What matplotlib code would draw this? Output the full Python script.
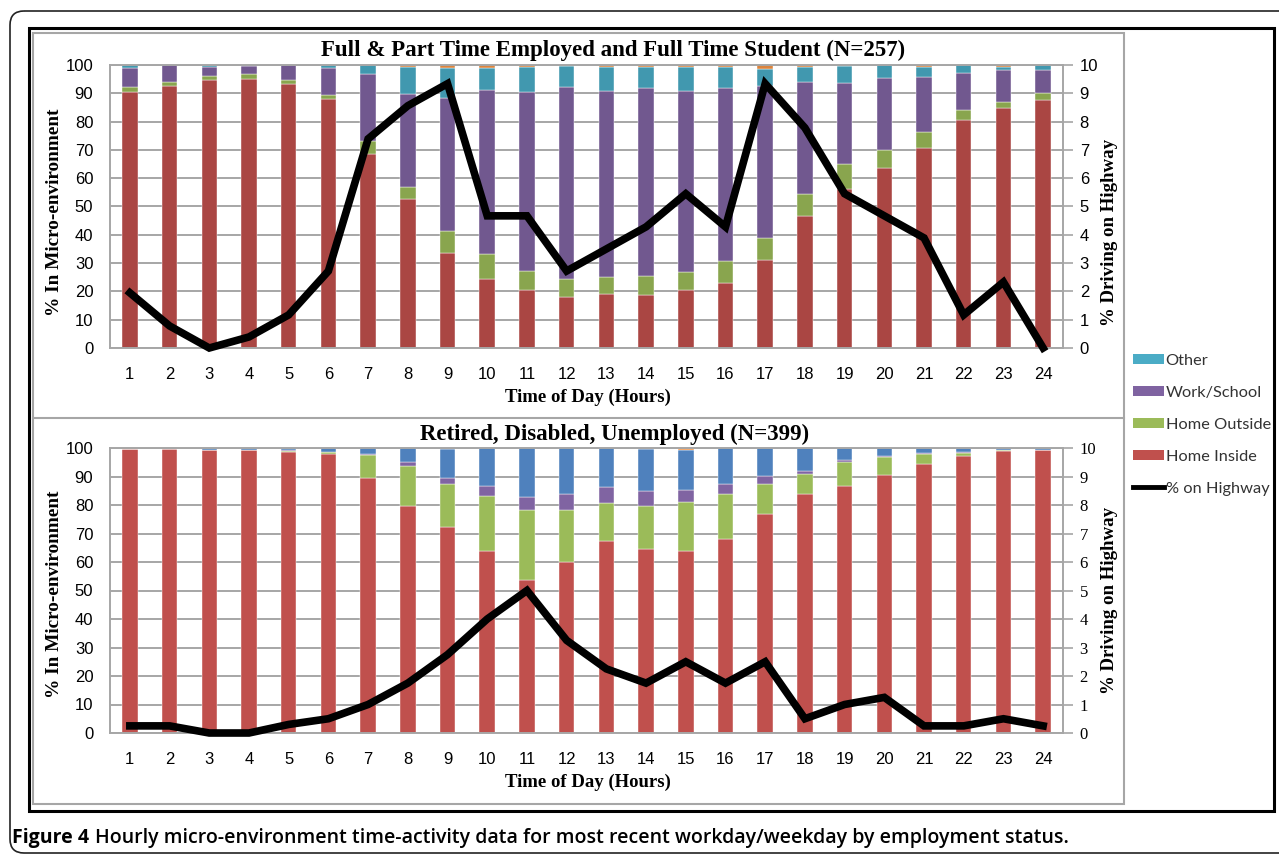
import matplotlib
matplotlib.use("Agg")
import matplotlib.pyplot as plt
import numpy as np
from matplotlib.patches import Rectangle, FancyBboxPatch, Patch
from matplotlib.lines import Line2D

# ---------------- data ----------------
hours = list(range(1, 25))
series_names = ["Home Inside", "Home Outside", "Work/School", "Other", "Vehicle"]

# Full & Part Time Employed and Full Time Student (N=257)
emp_home_inside = [90.6, 92.7, 94.8, 95.2, 93.2, 87.9, 68.6, 52.6, 33.7, 24.4, 20.5, 18.0,
                   19.2, 18.7, 20.6, 23.1, 31.2, 46.5, 56.2, 63.5, 70.6, 80.4, 84.7, 87.6]
emp_home_outside = [1.5, 1.3, 1.3, 1.6, 1.6, 1.5, 4.7, 4.4, 7.6, 8.7, 6.7, 6.5,
                    5.9, 6.8, 6.3, 7.7, 7.5, 7.9, 8.7, 6.6, 5.6, 3.6, 2.1, 2.6]
emp_work_school = [7.0, 6.0, 3.3, 3.0, 5.2, 9.4, 23.4, 32.7, 47.1, 58.2, 63.4, 67.6,
                   65.8, 66.5, 64.0, 61.2, 54.0, 39.7, 28.7, 25.4, 19.6, 13.1, 11.6, 8.2]
emp_other = [0.9, 0.0, 0.6, 0.2, 0.0, 1.2, 3.3, 9.7, 10.4, 7.8, 8.8, 7.7,
             8.3, 7.4, 8.3, 7.2, 5.9, 5.1, 6.0, 4.5, 3.6, 2.9, 0.9, 1.6]
emp_vehicle = [0.0, 0.0, 0.0, 0.0, 0.0, 0.0, 0.0, 0.6, 1.2, 0.9, 0.6, 0.2,
               0.8, 0.6, 0.8, 0.8, 1.4, 0.8, 0.4, 0.0, 0.6, 0.0, 0.7, 0.0]
emp_highway = [1.95, 0.78, 0.0, 0.39, 1.17, 2.72, 7.39, 8.56, 9.34, 4.67, 4.67, 2.72,
               3.50, 4.28, 5.45, 4.28, 9.34, 7.78, 5.45, 4.67, 3.89, 1.17, 2.33, 0.0]

# Retired, Disabled, Unemployed (N=399)
ret_home_inside = [99.6, 99.5, 99.2, 99.2, 98.6, 97.8, 89.5, 79.6, 72.2, 63.9, 53.8, 60.1,
                   67.4, 64.6, 63.7, 68.0, 76.9, 83.9, 86.5, 90.5, 94.5, 97.2, 98.8, 99.2]
ret_home_outside = [0.0, 0.0, 0.2, 0.0, 0.5, 0.7, 7.9, 14.0, 15.0, 19.4, 24.4, 18.3,
                    13.2, 15.0, 17.2, 15.8, 10.5, 6.9, 8.5, 6.2, 3.5, 1.2, 0.4, 0.2]
ret_work_school = [0.0, 0.0, 0.0, 0.0, 0.2, 0.2, 0.6, 1.6, 2.2, 3.3, 4.6, 5.6,
                   5.7, 5.2, 4.4, 3.6, 2.7, 1.1, 0.8, 0.4, 0.4, 0.3, 0.0, 0.0]
ret_other = [0.0, 0.5, 0.6, 0.8, 0.7, 1.3, 2.0, 4.8, 10.1, 13.4, 17.2, 16.0,
             13.7, 14.8, 14.0, 12.6, 9.9, 8.1, 4.2, 2.9, 1.6, 1.3, 0.8, 0.6]
ret_vehicle = [0.4, 0.0, 0.0, 0.0, 0.0, 0.0, 0.0, 0.0, 0.5, 0.0, 0.0, 0.0,
               0.0, 0.4, 0.7, 0.0, 0.0, 0.0, 0.0, 0.0, 0.0, 0.0, 0.0, 0.0]
ret_highway = [0.25, 0.25, 0.0, 0.0, 0.3, 0.5, 1.0, 1.75, 2.75, 4.0, 5.0, 3.25,
               2.25, 1.75, 2.5, 1.75, 2.5, 0.5, 1.0, 1.25, 0.25, 0.25, 0.5, 0.25]

top_title = "Full & Part Time Employed and Full Time Student (N=257)"
bottom_title = "Retired, Disabled, Unemployed (N=399)"
legend_labels = ["Other", "Work/School", "Home Outside", "Home Inside", "% on Highway"]
caption_bold = "Figure 4"
caption_text = "Hourly micro-environment time-activity data for most recent workday/weekday by employment status."

# ---------------- style ----------------
SERIF = "Liberation Serif"
SANS = "Liberation Sans"
GRID = "#A6A6A6"
top_colors = ["#AA4643", "#89A54E", "#71588F", "#4198AF", "#DB843D"]
bot_colors = ["#C0504D", "#9BBB59", "#8064A2", "#4F81BD", "#F79646"]
legend_colors = ["#4BACC6", "#7F63A1", "#9BBB59", "#C0504D"]

W, H = 1279, 855
fig = plt.figure(figsize=(W / 100, H / 100), dpi=100)

bg = fig.add_axes([0, 0, 1, 1], zorder=-5)
bg.set_xlim(0, W)
bg.set_ylim(H, 0)
bg.axis("off")

# frames
bg.add_patch(FancyBboxPatch((10, 11), 1320, 842, boxstyle="round,pad=0,rounding_size=14",
                            fill=False, ec="#222222", lw=1.2))
bg.add_patch(Rectangle((29, 28), 1245, 783, fill=False, ec="black", lw=2.2))
bg.add_patch(Rectangle((33, 33), 1091, 771, fill=False, ec=GRID, lw=1.5))
bg.plot([33, 1124], [418, 418], color=GRID, lw=1.5)


def px_axes(x0, y0, x1, y1):
    return fig.add_axes([x0 / W, 1 - y1 / H, (x1 - x0) / W, (y1 - y0) / H])


def draw_panel(ax, segs, colors, highway, right_font):
    bottom = np.zeros(len(hours))
    for vals, c in zip(segs, colors):
        vals = np.array(vals)
        ax.bar(hours, vals, width=0.39, bottom=bottom, color=c, zorder=2,
               edgecolor="white", linewidth=0.3)
        bottom += vals
    ax.set_xlim(0.5, 24.5)
    ax.set_ylim(0, 100)
    ax.set_yticks(range(0, 101, 10))
    ax.set_xticks(hours)
    ax.grid(axis="y", color=GRID, lw=1.4, zorder=0)
    ax.set_axisbelow(True)
    for s in ax.spines.values():
        s.set_color(GRID)
        s.set_linewidth(1.4)
    ax.tick_params(length=0, labelsize=12, pad=12)
    for lab in ax.get_xticklabels() + ax.get_yticklabels():
        lab.set_fontfamily(SANS)
    ax.tick_params(axis="x", pad=14)

    ax2 = ax.twinx()
    ax2.plot(hours, highway, color="black", lw=5.5, clip_on=False, zorder=5,
             solid_joinstyle="miter")
    ax2.set_ylim(0, 10)
    ax2.set_yticks(range(0, 11))
    ax2.tick_params(axis="y", length=7, width=1.2, color=GRID, labelsize=12, pad=5)
    for lab in ax2.get_yticklabels():
        lab.set_fontfamily(right_font)
    for s in ax2.spines.values():
        s.set_visible(False)
    return ax2


ax_top = px_axes(110, 65, 1063, 348)
draw_panel(ax_top, [emp_home_inside, emp_home_outside, emp_work_school, emp_other, emp_vehicle],
           top_colors, emp_highway, SANS)
ax_bot = px_axes(110, 448, 1063, 733)
draw_panel(ax_bot, [ret_home_inside, ret_home_outside, ret_work_school, ret_other, ret_vehicle],
           bot_colors, ret_highway, SERIF)

# titles and axis labels
tkw = dict(fontfamily=SERIF, fontweight="bold", ha="center", va="center")
bg.text(613, 50, top_title, fontsize=16.5, **tkw)
bg.text(615, 434, bottom_title, fontsize=16.5, **tkw)
for yc in (212, 594):
    bg.text(55, yc, "% In Micro-environment", fontsize=13.9, rotation=90, **tkw)
for yc in (232, 600):
    bg.text(1109, yc, "% Driving on Highway", fontsize=13.6, rotation=90, **tkw)
for yc in (397, 782):
    bg.text(588, yc, "Time of Day (Hours)", fontsize=13.5, **tkw)

# legend
handles = [Patch(facecolor=c, edgecolor="none") for c in legend_colors]
handles.append(Line2D([0], [0], color="black", lw=3.5))
leg = bg.legend(handles, legend_labels, loc="upper left", bbox_to_anchor=(1126, 347),
                bbox_transform=bg.transData, frameon=False,
                prop={"family": "Lato", "size": 11.8}, handlelength=1.9, handleheight=0.6,
                handletextpad=0.12, labelspacing=1.1, borderaxespad=0)
for t in leg.get_texts():
    t.set_color("#333333")

# caption
t1 = bg.text(12, 838, caption_bold, fontsize=14, fontfamily="Open Sans", fontweight="bold",
             ha="left", va="center")
fig.canvas.draw()
ext = t1.get_window_extent()
x_next = ext.x1 + 6
bg.text(x_next, 838, caption_text, fontsize=14, fontfamily="Open Sans", fontweight="semibold",
        ha="left", va="center")

fig.savefig("out.png", dpi=100)
